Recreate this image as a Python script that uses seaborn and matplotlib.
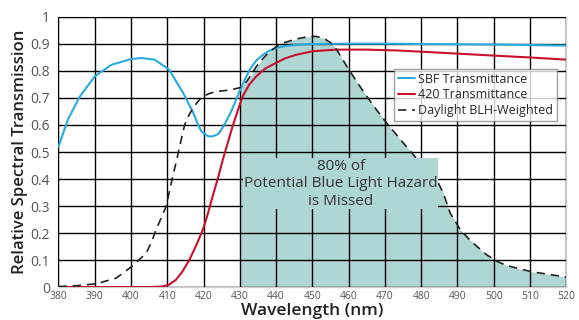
import numpy as np
import pandas as pd
import seaborn as sns
import matplotlib.pyplot as plt

# values
sbf_nm = [380, 382.6, 385.8, 390, 394.6, 400, 402.8, 406.5, 410.5, 413, 414.4, 415.8, 417.2, 418.5, 419.5,
          421.3, 422.5, 424.1, 425.5, 426.8, 428, 430, 432.7, 434.5, 436.4, 438, 440, 442, 445.6, 450, 460,
          470, 480, 490, 500, 510, 520]
sbf_t = [0.52, 0.62, 0.704, 0.78, 0.823, 0.844, 0.848, 0.842, 0.805, 0.749, 0.718, 0.681, 0.644, 0.600, 0.575,
         0.558, 0.558, 0.567, 0.595, 0.628, 0.662, 0.728, 0.805, 0.838, 0.86, 0.874, 0.885, 0.891, 0.897, 0.9,
         0.901, 0.901, 0.9, 0.899, 0.898, 0.896, 0.894]

f420_nm = [380, 390, 400, 405, 408.7, 410.5, 412.4, 414.2, 416.1, 418, 419.8, 421.2, 422.5, 424, 425.3, 426.7,
           428, 429.4, 430.8, 432.5, 434.5, 437, 440, 442.5, 445.6, 450, 456.5, 465, 473.3, 482, 491.7, 500,
           510, 520]
f420_t = [0, 0, 0, 0, 0.002, 0.009, 0.027, 0.058, 0.101, 0.155, 0.212, 0.272, 0.336, 0.405, 0.471, 0.535,
          0.595, 0.652, 0.706, 0.748, 0.78, 0.809, 0.83, 0.847, 0.86, 0.873, 0.879, 0.879, 0.876, 0.87, 0.863,
          0.857, 0.85, 0.842]

day_nm = [380, 385, 390.4, 395.9, 400, 402, 404.2, 405.6, 406.9, 408.3, 409.7, 410.6, 411.5, 412.5, 413.4,
          414.8, 416, 417.1, 418.5, 419.9, 421.5, 423.5, 427, 430, 431.9, 433.2, 434.6, 436.5, 438.3, 440,
          442, 445.7, 449.3, 451, 453, 455, 456.7, 459.5, 462.5, 465, 467.7, 470.5, 475.1, 480.6, 484.3,
          486.1, 488, 490.8, 493, 495.4, 498, 500.9, 503.5, 506.4, 510, 515, 520]
day_t = [0.002, 0.005, 0.012, 0.033, 0.074, 0.098, 0.126, 0.165, 0.212, 0.255, 0.299, 0.355, 0.41, 0.465,
         0.52, 0.601, 0.637, 0.663, 0.688, 0.706, 0.716, 0.724, 0.729, 0.738, 0.761, 0.788, 0.817, 0.848,
         0.873, 0.889, 0.904, 0.919, 0.928, 0.928, 0.922, 0.905, 0.879, 0.817, 0.755, 0.706, 0.656, 0.607,
         0.533, 0.447, 0.397, 0.348, 0.274, 0.212, 0.18, 0.15, 0.12, 0.095, 0.08, 0.07, 0.058, 0.047, 0.037]

sns.set_style("white")
plt.rcParams['font.family'] = ['Open Sans', 'DejaVu Sans']

fig, ax = plt.subplots(figsize=(5.79, 3.2), dpi=100)
fig.subplots_adjust(left=0.101, right=0.978, top=0.947, bottom=0.103)

sbf = pd.DataFrame({"nm": sbf_nm, "t": sbf_t})
f420 = pd.DataFrame({"nm": f420_nm, "t": f420_t})
day = pd.DataFrame({"nm": day_nm, "t": day_t})

# shaded area under daylight curve from 430 nm
shade = day[day["nm"] >= 430]
ax.fill_between(shade["nm"], 0, shade["t"], color="#aed6d3", lw=0, zorder=1)

sns.lineplot(data=sbf, x="nm", y="t", ax=ax, color="#29abe2", lw=1.5, label="SBF Transmittance", zorder=4)
sns.lineplot(data=f420, x="nm", y="t", ax=ax, color="#c8102e", lw=1.5, label="420 Transmittance", zorder=4)
sns.lineplot(data=day, x="nm", y="t", ax=ax, color="#222222", lw=1.2, ls=(0, (5, 3.5)),
             label="Daylight BLH-Weighted", zorder=4)

ax.set_xlim(380, 520)
ax.set_ylim(0, 1)
ax.set_xticks(range(380, 521, 10))
ax.set_yticks(np.arange(0, 1.01, 0.1))
ax.set_yticklabels(["0", "0.1", "0.2", "0.3", "0.4", "0.5", "0.6", "0.7", "0.8", "0.9", "1"])
ax.tick_params(axis="x", labelsize=7.5, labelcolor="#555555", length=0, pad=2.5)
ax.tick_params(axis="y", labelsize=10, labelcolor="#555555", length=0, pad=6)
ax.grid(True, color="black", lw=1, zorder=2)
ax.set_axisbelow(False)
for sp in ax.spines.values():
    sp.set_color("#cccccc")
    sp.set_linewidth(1)

ax.set_xlabel("Wavelength (nm)", fontsize=12.5, fontweight="semibold", color="#222222", va="baseline")
ax.xaxis.set_label_coords(0.5, -0.104)
ax.set_ylabel("Relative Spectral Transmission", fontsize=12, fontweight="semibold", color="#222222",
              labelpad=2)

ax.text(457.8, 0.382, "80% of\nPotential Blue Light Hazard\nis Missed", ha="center", va="center",
        fontsize=11, color="#333333", linespacing=1.2, zorder=5,
        bbox=dict(boxstyle="square,pad=0.05", fc="#aed6d3", ec="none"))

leg = ax.legend(loc="upper left", bbox_to_anchor=(0.661, 0.808), fontsize=9, frameon=True, fancybox=False,
                handlelength=1.4, handletextpad=0.25, borderpad=0.3, labelspacing=0.22, borderaxespad=0)
leg.get_frame().set_edgecolor("#888888")
leg.get_frame().set_linewidth(1)
leg.set_zorder(6)

fig.savefig("out.png", dpi=100)
